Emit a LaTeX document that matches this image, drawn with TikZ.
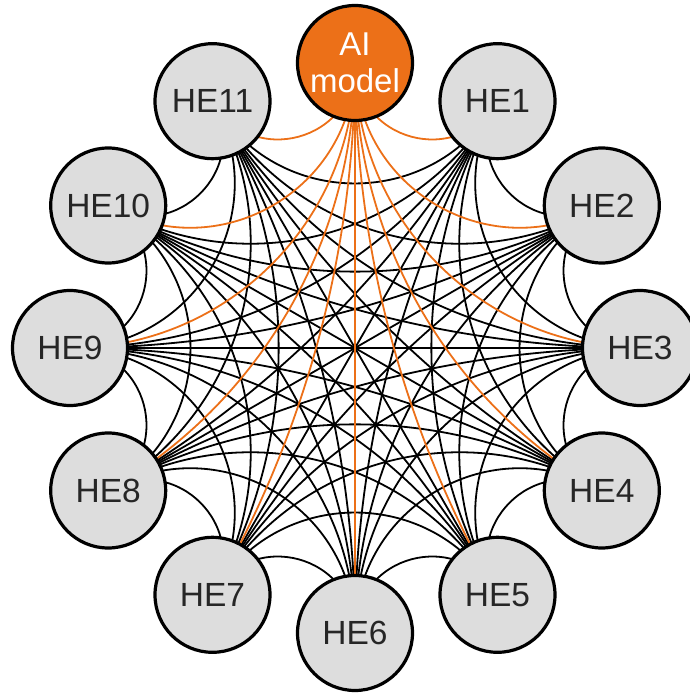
\documentclass[tikz,border=0pt]{standalone}
\usepackage{fontspec}
\setmainfont{Liberation Sans}
\usetikzlibrary{calc}
\pgfdeclarelayer{bg}
\pgfsetlayers{bg,main}
\definecolor{aiorange}{RGB}{236,112,24}
\definecolor{hegray}{RGB}{221,221,221}
\definecolor{hetext}{RGB}{38,38,38}
\tikzset{
  henode/.style={circle, draw=black, line width=3.2pt, fill=hegray, minimum size=115pt,
    inner sep=0pt, text=hetext, font=\fontsize{33.5}{37}\selectfont},
  ainode/.style={henode, fill=aiorange, text=white, align=center,
    font=\fontsize{33}{37}\selectfont},
  heedge/.style={draw=black, line width=1.8pt},
  aiedge/.style={draw=aiorange, line width=1.8pt},
}
\begin{document}
\begin{tikzpicture}[x=1pt,y=1pt]
\useasboundingbox (0,0) rectangle (689,694);
\coordinate (C) at (355,346);
% nodes
\node[ainode] (n0) at ($(C)+(90:285)$) {AI\\model};
\foreach \i in {1,...,11}{
  \node[henode] (n\i) at ($(C)+({90-30*\i}:285)$) {HE\i};
}
% edges: circular arcs orthogonal to the layout circle
\begin{pgfonlayer}{bg}
\foreach \i in {1,...,10}{
  \pgfmathtruncatemacro{\jstart}{\i+1}
  \foreach \j in {\jstart,...,11}{
    \pgfmathtruncatemacro{\d}{\j-\i}
    \pgfmathtruncatemacro{\s}{min(\d,12-\d)}
    \pgfmathsetmacro{\c}{{0,0.274139,0.444444,0.552285,0.618802,0.655107,0.666667}[\s]}
    \draw[heedge] (n\i.center) .. controls ($(n\i.center)!\c!(C)$) and ($(n\j.center)!\c!(C)$) .. (n\j.center);
  }
}
\foreach \j in {1,...,11}{
  \pgfmathtruncatemacro{\s}{min(\j,12-\j)}
  \pgfmathsetmacro{\c}{{0,0.274139,0.444444,0.552285,0.618802,0.655107,0.666667}[\s]}
  \draw[aiedge] (n0.center) .. controls ($(n0.center)!\c!(C)$) and ($(n\j.center)!\c!(C)$) .. (n\j.center);
}
\end{pgfonlayer}
\end{tikzpicture}
\end{document}
